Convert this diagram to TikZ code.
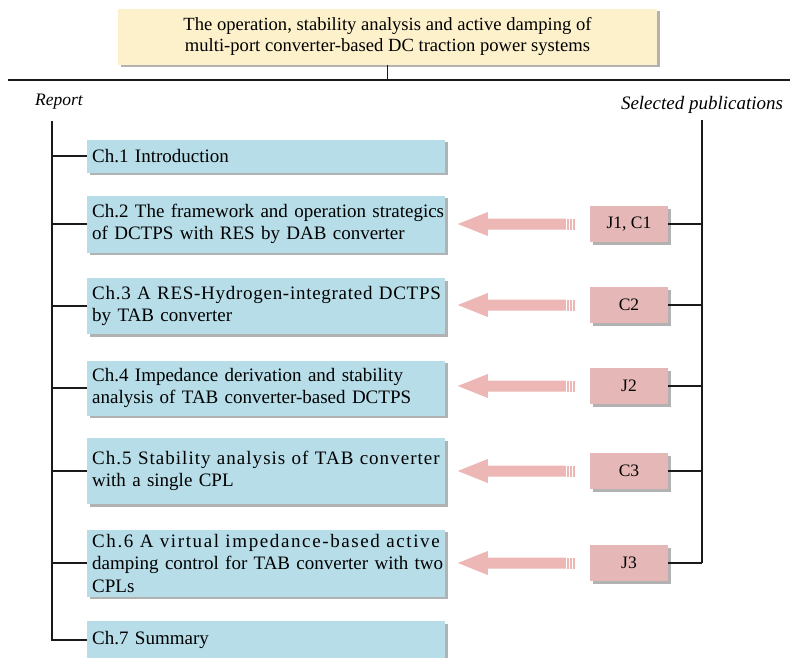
\documentclass[tikz,border=0pt]{standalone}
\usepackage{fontspec}
\setmainfont{Liberation Serif}
\usetikzlibrary{shadows,calc}
\definecolor{titlefill}{HTML}{FCF1CB}
\definecolor{chapfill}{HTML}{B6DDE8}
\definecolor{pubfill}{HTML}{E5B8B7}
\definecolor{arrowpink}{HTML}{EDB7B6}
\definecolor{linecol}{HTML}{1A1A1A}
\tikzset{
  shadowed/.style={drop shadow={shadow xshift=2.5pt, shadow yshift=-2.5pt, fill=black, opacity=0.3}},
  titlebox/.style={shadowed, fill=titlefill, minimum width=539pt, minimum height=56pt, inner sep=0pt, align=center, font=\fontsize{18.6}{20.5}\selectfont},
  chapbox/.style={shadowed, fill=chapfill, text width=348pt, inner xsep=5pt, inner ysep=0pt, align=left, anchor=west, font=\fontsize{19}{22.5}\selectfont},
  pubbox/.style={shadowed, fill=pubfill, minimum width=78pt, minimum height=36pt, inner sep=0pt, font=\fontsize{17.5}{20}\selectfont},
  tree/.style={draw=linecol, line width=1.6pt},
  headlabel/.style={font=\fontsize{17.5}{20}\selectfont\itshape, inner sep=0pt},
}
\newcommand\pubarrow[1]{%
  \begin{scope}[shift={(#1.west)}]
    \fill[arrowpink] (-132,0) -- (-102,-12) -- (-102,-5.5) -- (-24,-5.5) -- (-24,5.5) -- (-102,5.5) -- (-102,12) -- cycle;
    \fill[arrowpink] (-22.5,-5.5) rectangle (-20.5,5.5);
    \fill[arrowpink] (-19.5,-5.5) rectangle (-17.5,5.5);
    \fill[arrowpink] (-16.5,-5.5) rectangle (-14.5,5.5);
  \end{scope}}
\newcommand\lsp[2]{\leavevmode\hbox{\addfontfeature{LetterSpace=#1}#2}}
\newcommand\oneline[1]{\leavevmode\hbox{#1}}
\begin{document}
\begin{tikzpicture}[x={(1pt,0pt)}, y={(0pt,-1pt)}]
\useasboundingbox (0,0) rectangle (790,657);

% title and top line
\node[titlebox] (title) at (387.5,36.5) {The operation, stability analysis and active damping of\\multi-port converter-based DC traction power systems};
\coordinate (hl) at (8,80);
\coordinate (hr) at (790,80);
\draw[tree] (hl) -- (hr);
\draw[tree] (title.south) -- (title.south |- hl);

% heads
\node[headlabel] (report) at (59,102) {Report};
\node[headlabel, font=\fontsize{19}{20}\selectfont\itshape] (selpub) at (702,105) {Selected publications};

% chapters
\node[chapbox, minimum height=33pt] (c1) at (87,156) {Ch.1 Introduction};
\node[chapbox, minimum height=57pt] (c2) at (87,224) {\oneline{Ch.2 The framework and operation strategics}\\of DCTPS with RES by DAB converter};
\node[chapbox, minimum height=56pt] (c3) at (87,306) {\lsp{3.8}{Ch.3 A RES-Hydrogen-integrated DCTPS}\\by TAB converter};
\node[chapbox, minimum height=55pt] (c4) at (87,388) {Ch.4 Impedance derivation and stability\\analysis of TAB converter-based DCTPS};
\node[chapbox, minimum height=66pt] (c5) at (87,471) {\lsp{5.4}{Ch.5 Stability analysis of TAB converter}\\with a single CPL};
\node[chapbox, minimum height=67pt] (c6) at (87,563) {\lsp{8.5}{Ch.6 A virtual impedance-based active}\\\oneline{damping control for TAB converter with two}\\CPLs};
\node[chapbox, minimum height=38pt] (c7) at (87,640) {Ch.7 Summary};

% publications
\node[pubbox] (p1) at (629,224) {J1, C1};
\node[pubbox] (p2) at (629,305) {C2};
\node[pubbox] (p3) at (629,386) {J2};
\node[pubbox] (p4) at (629,471) {C3};
\node[pubbox] (p5) at (629,563) {J3};

% left tree
\coordinate (lt) at (52,121);
\draw[tree] (lt) -- (lt |- c7.west) -- (c7.west);
\foreach \c in {c1,c2,c3,c4,c5,c6}{\draw[tree] (lt |- \c.west) -- (\c.west);}

% right tree
\coordinate (rt) at (702,120);
\draw[tree] (rt) -- (rt |- p5.east);
\foreach \p in {p1,p2,p3,p4,p5}{\draw[tree] (\p.east) -- (rt |- \p.east);}

% arrows
\foreach \p in {p1,p2,p3,p4,p5}{\pubarrow{\p}}
\end{tikzpicture}
\end{document}
